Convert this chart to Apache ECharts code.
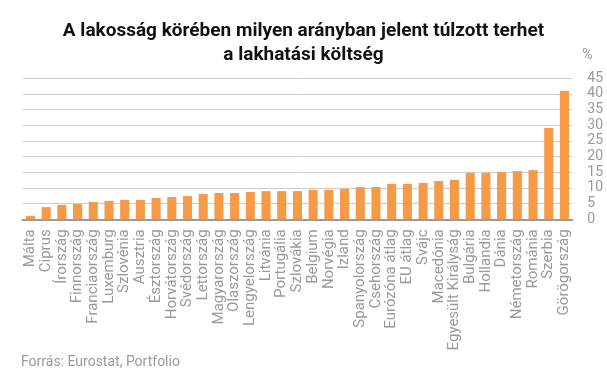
<!DOCTYPE html>
<html>
<head>
<meta charset="utf-8">
<script src="https://cdn.jsdelivr.net/npm/echarts@6/dist/echarts.min.js"></script>
<style>
html,body{margin:0;padding:0;background:#fff;}
#c{width:607px;height:380px;}
</style>
</head>
<body>
<div id="c"></div>
<script>
const categories = ["Málta","Ciprus","Írország","Finnország","Franciaország","Luxemburg","Szlovénia","Ausztria","Észtország","Horvátország","Svédország","Lettország","Magyarország","Olaszország","Lengyelország","Litvánia","Portugália","Szlovákia","Belgium","Norvégia","Izland","Spanyolország","Csehország","Eurózóna átlag","EU átlag","Svájc","Macedónia","Egyesült Királyság","Bulgária","Hollandia","Dánia","Németország","Románia","Szerbia","Görögország"];
const values = [1.1,3.9,4.6,4.9,5.5,5.9,6.2,6.2,6.8,7.1,7.4,8.1,8.4,8.4,8.7,9.0,9.0,9.0,9.4,9.4,9.7,10.3,10.3,11.3,11.3,11.6,12.2,12.6,14.8,14.8,15.1,15.4,15.7,29.1,41.0];
const titleLines = ["A lakosság körében milyen arányban jelent túlzott terhet","a lakhatási költség"];
const sourceText = "Forrás: Eurostat, Portfolio";
const yUnit = "%";

const chart = echarts.init(document.getElementById('c'), null, {renderer:'canvas'});
chart.setOption({
  animation:false,
  backgroundColor:'#fff',
  title:[{
    text:titleLines.join('\n'),
    left:'center', top:14,
    textStyle:{fontFamily:'"Liberation Sans Narrow", "Roboto", sans-serif', fontWeight:'bold', fontSize:19, color:'#111', lineHeight:24}
  },{
    text:sourceText,
    left:16, top:350,
    textStyle:{fontFamily:'Roboto, sans-serif', fontWeight:'normal', fontSize:14, color:'#999'}
  }],
  grid:{left:22.6, right:34.7, top:78.3, bottom:160.7, containLabel:false},
  xAxis:{
    type:'category', data:categories,
    axisLine:{show:true, lineStyle:{color:'#999', width:2}},
    axisTick:{show:false},
    axisLabel:{rotate:90, interval:0, margin:10, fontFamily:'Roboto, sans-serif', fontSize:15, color:'#999'}
  },
  yAxis:{
    type:'value', position:'right', min:0, max:45, interval:5,
    name:yUnit, nameLocation:'end', nameGap:16,
    nameTextStyle:{fontFamily:'Roboto, sans-serif', fontSize:14, color:'#999', align:'left', padding:[0,0,0,10]},
    axisLine:{show:false}, axisTick:{show:false},
    axisLabel:{margin:15, fontFamily:'Roboto, sans-serif', fontSize:14, color:'#999'},
    splitLine:{lineStyle:{color:'#ccc', width:1}}
  },
  series:[{
    type:'bar', data:values, barWidth:'58%',
    itemStyle:{color:'#F59B47'}
  }]
});
</script>
</body>
</html>
